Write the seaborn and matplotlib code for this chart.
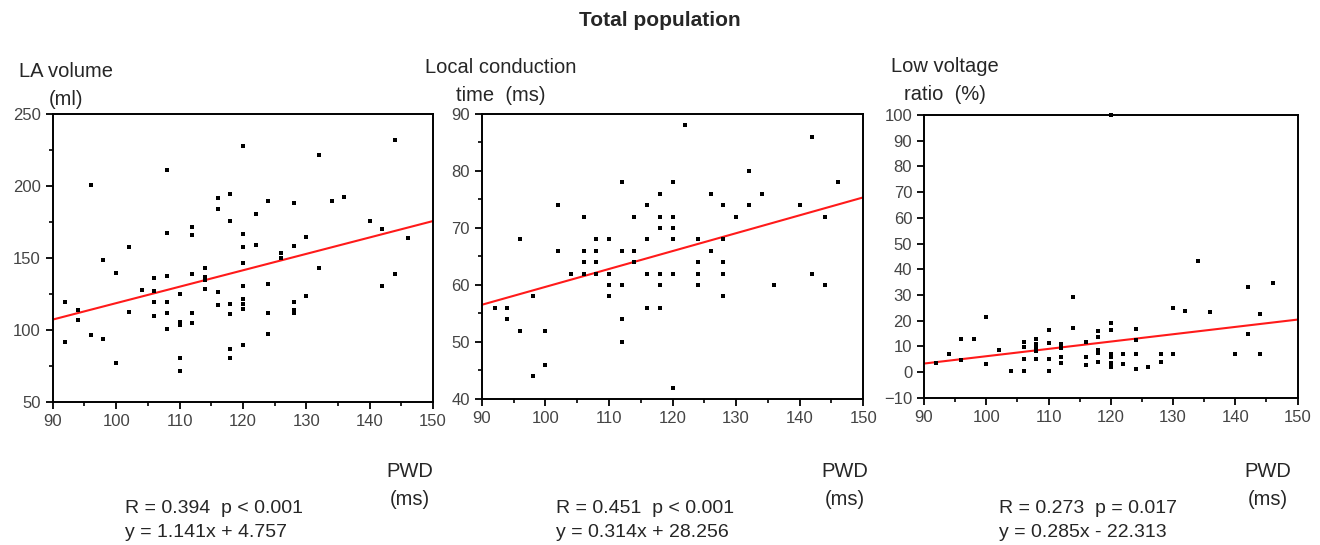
import matplotlib
matplotlib.use("Agg")
import matplotlib.pyplot as plt
from matplotlib.ticker import MultipleLocator
import numpy as np
import pandas as pd
import seaborn as sns

# LA volume (ml) vs PWD (ms)
la_pwd = [92, 92, 94, 94, 96, 96, 98, 98, 100, 100, 102, 102, 104, 106, 106, 106, 106,
          108, 108, 108, 108, 108, 108, 110, 110, 110, 110, 110, 112, 112, 112, 112, 112,
          114, 114, 114, 114, 116, 116, 116, 116, 118, 118, 118, 118, 118, 118,
          120, 120, 120, 120, 120, 120, 120, 120, 120, 122, 122, 124, 124, 124, 124,
          126, 126, 128, 128, 128, 128, 128, 130, 130, 132, 132, 134, 136, 140, 142, 142,
          144, 144, 146]
la_vol = [119.5, 92, 114, 107, 201, 97, 148.5, 94, 140, 77, 158, 113, 128, 136, 127, 119.5, 110,
          211.5, 167.5, 138, 119.5, 112, 101, 125, 106, 104, 81, 72, 172, 166, 139, 112, 105,
          143, 137, 135, 129, 192, 184, 126.5, 117.5, 195, 176, 118.5, 111.5, 87, 81,
          228, 167, 158, 147, 131, 122, 118.5, 115, 90, 180.5, 159.5, 190, 132, 112, 97.5,
          154, 150, 188.5, 158.5, 119.5, 114, 112, 164.5, 124, 222, 143, 190, 192.5, 176, 170.5, 130.5,
          232, 139, 164]

# Local conduction time (ms) vs PWD (ms)
lct_pwd = [92, 94, 94, 96, 96, 98, 98, 100, 100, 102, 102, 104, 106, 106, 106, 106,
           108, 108, 108, 108, 110, 110, 110, 110, 112, 112, 112, 112, 112, 114, 114, 114,
           116, 116, 116, 116, 118, 118, 118, 118, 118, 118, 120, 120, 120, 120, 120, 120,
           122, 124, 124, 124, 124, 126, 126, 128, 128, 128, 128, 128, 130, 132, 132, 134,
           136, 140, 142, 142, 144, 144, 146]
lct_val = [56, 56, 54, 68, 52, 58, 44, 52, 46, 74, 66, 62, 72, 66, 64, 62,
           68, 66, 64, 62, 68, 62, 60, 58, 78, 66, 60, 54, 50, 72, 66, 64,
           74, 68, 62, 56, 76, 72, 70, 62, 60, 56, 78, 72, 70, 68, 62, 42,
           88, 68, 64, 62, 60, 76, 66, 74, 68, 64, 62, 58, 72, 80, 74, 76,
           60, 74, 86, 62, 72, 60, 78]

# Low voltage ratio (%) vs PWD (ms)
lvr_pwd = [92, 94, 96, 96, 98, 100, 100, 102, 104, 106, 106, 106, 106,
           108, 108, 108, 108, 108, 110, 110, 110, 110, 112, 112, 112, 112, 114, 114,
           116, 116, 116, 118, 118, 118, 118, 118, 120, 120, 120, 120, 120, 120, 120,
           122, 122, 124, 124, 124, 124, 126, 128, 128, 130, 130, 132, 134, 136, 140,
           142, 142, 144, 144, 146]
lvr_val = [3.4, 7.2, 4.7, 12.8, 12.8, 21.5, 3, 8.8, 0.5, 0.5, 5.3, 9.8, 11.8,
           12.8, 10.8, 9.8, 8.3, 5.3, 16.3, 11.5, 5.3, 0.5, 10.8, 9.2, 6, 3.7, 29.3, 17,
           11.8, 6, 2.7, 16.1, 13.7, 8.5, 7.6, 4, 100, 19.2, 16.3, 7.2, 6, 3.4, 2.1,
           7.2, 3, 16.6, 12.4, 7.2, 1.4, 2.1, 7.2, 4, 25, 7.2, 23.9, 43.2, 23.5, 7.2,
           33, 14.8, 22.6, 6.9, 34.5]

slopes = [1.141, 0.314, 0.285]
intercepts = [4.757, 28.256, -22.313]
y_labels = ["LA volume\n(ml)", "Local conduction\ntime  (ms)", "Low voltage\nratio  (%)"]
stats_r = ["R = 0.394  p < 0.001", "R = 0.451  p < 0.001", "R = 0.273  p = 0.017"]
stats_eq = ["y = 1.141x + 4.757", "y = 0.314x + 28.256", "y = 0.285x - 22.313"]
y_limits = [(50, 250), (40, 90), (-10, 100)]
y_major = [50, 10, 10]
y_minor = [25, 5, None]

sns.set_theme(style="white")
plt.rcParams["font.family"] = ["Liberation Sans", "DejaVu Sans"]

fig = plt.figure(figsize=(13.2, 5.45), dpi=100)
boxes = [
    [0.040, 0.262, 0.288, 0.528],
    [0.365, 0.268, 0.289, 0.523],
    [0.700, 0.270, 0.283, 0.519],
]
ylab_pos = [(0.050, 0.800), (0.379, 0.807), (0.716, 0.810)]
pwd_x = [0.328, 0.658, 0.978]
stat_x = [0.095, 0.421, 0.757]

datasets = [(la_pwd, la_vol), (lct_pwd, lct_val), (lvr_pwd, lvr_val)]

for i, (xs, ys) in enumerate(datasets):
    ax = fig.add_axes(boxes[i])
    df = pd.DataFrame({"pwd": xs, "val": ys})
    sns.scatterplot(data=df, x="pwd", y="val", ax=ax, color="black", marker="s",
                    s=8, linewidth=0, clip_on=False, zorder=3)
    line = pd.DataFrame({"pwd": [90, 150]})
    line["val"] = slopes[i] * line["pwd"] + intercepts[i]
    sns.lineplot(data=line, x="pwd", y="val", ax=ax, color="#ff1a1a", linewidth=1.5)
    ax.set_xlim(90, 150)
    ax.set_ylim(*y_limits[i])
    ax.xaxis.set_major_locator(MultipleLocator(10))
    ax.xaxis.set_minor_locator(MultipleLocator(5))
    ax.yaxis.set_major_locator(MultipleLocator(y_major[i]))
    if y_minor[i]:
        ax.yaxis.set_minor_locator(MultipleLocator(y_minor[i]))
    ax.set_xlabel("")
    ax.set_ylabel("")
    for sp in ax.spines.values():
        sp.set_visible(True)
        sp.set_color("black")
        sp.set_linewidth(1.4)
    ax.tick_params(which="major", direction="out", length=5, width=1.3,
                   colors="black", labelcolor="#444444", labelsize=12,
                   bottom=True, left=True)
    ax.tick_params(which="minor", direction="out", length=3, width=1.2,
                   colors="black", bottom=True, left=True)
    ax.grid(False)

    fig.text(ylab_pos[i][0], ylab_pos[i][1], y_labels[i], ha="center", va="bottom",
             fontsize=14.5, linespacing=1.6, multialignment="center")
    fig.text(pwd_x[i], 0.066, "PWD\n(ms)", ha="right", va="bottom", fontsize=14.5,
             linespacing=1.6, multialignment="center")
    fig.text(stat_x[i], 0.008, stats_r[i] + "\n" + stats_eq[i], ha="left", va="bottom",
             fontsize=14, linespacing=1.5)

fig.text(0.5, 0.945, "Total population", ha="center", va="bottom",
         fontsize=15, fontweight="bold")

fig.savefig("out.png", dpi=100)
